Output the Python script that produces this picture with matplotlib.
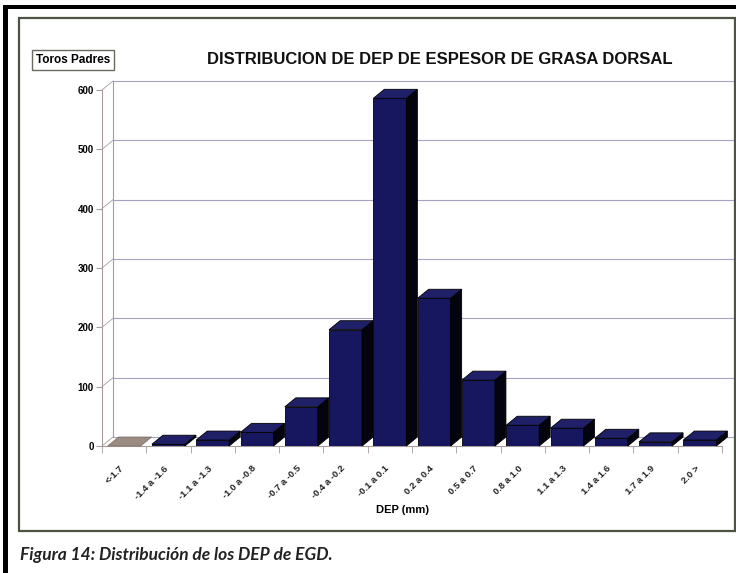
import numpy as np
import matplotlib
matplotlib.use('Agg')
import matplotlib.pyplot as plt
import matplotlib.transforms as mtransforms
from matplotlib.patches import Polygon, Rectangle

# data
categories = ['<-1.7', '-1.4 a -1.6', '-1.1 a -1.3', '-1.0 a -0.8', '-0.7 a -0.5',
              '-0.4 a -0.2', '-0.1 a 0.1', '0.2 a 0.4', '0.5 a 0.7', '0.8 a 1.0',
              '1.1 a 1.3', '1.4 a 1.6', '1.7 a 1.9', '2.0 >']
counts = [0, 3, 10, 23, 66, 196, 586, 249, 111, 35, 30, 13, 7, 10]
yticks = [0, 100, 200, 300, 400, 500, 600]

W, H = 736, 573
fig = plt.figure(figsize=(W / 100, H / 100), dpi=100)
fig.patch.set_facecolor('white')

def fx(x):
    return x / W

def fy(y):
    return 1 - y / H

# front axis: x from 102 to 722 px, y 0 at 446 px, 600 at 90 px
ax = fig.add_axes([fx(102), fy(446), (722 - 102) / W, (446 - 90) / H])
ax.set_xlim(-0.5, len(categories) - 0.5)
ax.set_ylim(0, 600)
ax.patch.set_alpha(0)

# 3d depth offset in data units (about 11 px right, 9 px up)
dx = 11 / (620 / len(categories))
dy = 9 / (356 / 600)
xmin, xmax = -0.5, len(categories) - 0.5

grid_col = '#a4a2c4'
axis_col = '#a89c9c'

# back wall gridlines and left wall slants
for v in yticks:
    ax.plot([xmin + dx, xmax + dx], [v + dy, v + dy], color=grid_col, lw=0.8, clip_on=False, zorder=1)
    ax.plot([xmin, xmin + dx], [v, v + dy], color=axis_col, lw=0.6, clip_on=False, zorder=1)
ax.plot([xmin + dx, xmin + dx], [dy, 600 + dy], color=axis_col, lw=0.8, clip_on=False, zorder=1)

# bars
bw = 0.745
front_col = '#17175f'
top_col = '#202068'
side_col = '#04040f'
for i, v in enumerate(counts):
    x0 = i - bw / 2
    x1 = i + bw / 2
    if v == 0:
        ax.add_patch(Polygon([(x0, 0), (x1, 0), (x1 + dx, dy), (x0 + dx, dy)],
                             closed=True, facecolor='#9c8b82', edgecolor='#7a6a62', lw=0.5,
                             clip_on=False, zorder=3))
        continue
    ax.bar(i, v, width=bw, color=front_col, edgecolor='black', lw=0.6, zorder=3)
    ax.add_patch(Polygon([(x1, 0), (x1 + dx, dy), (x1 + dx, v + dy), (x1, v)],
                         closed=True, facecolor=side_col, edgecolor='black', lw=0.6,
                         clip_on=False, zorder=3))
    ax.add_patch(Polygon([(x0, v), (x1, v), (x1 + dx, v + dy), (x0 + dx, v + dy)],
                         closed=True, facecolor=top_col, edgecolor='black', lw=0.6,
                         clip_on=False, zorder=3))

# front axes
for s in ['top', 'right']:
    ax.spines[s].set_visible(False)
ax.spines['left'].set_color(axis_col)
ax.spines['bottom'].set_color(axis_col)
ax.spines['left'].set_linewidth(0.8)
ax.spines['bottom'].set_linewidth(0.8)

ax.set_yticks(yticks)
ax.set_yticklabels([str(v) for v in yticks], fontsize=7, fontweight='bold', family='Liberation Sans')
ax.tick_params(axis='y', length=4, color=axis_col, pad=2)

ax.set_xticks(np.arange(len(categories)))
ax.set_xticklabels(categories, rotation=45, ha='right', va='top', rotation_mode='anchor',
                   fontsize=6.8, fontweight='bold', family='Liberation Sans', color='#222222')
ax.set_xticks(np.arange(len(categories) + 1) - 0.5, minor=True)
ax.tick_params(axis='x', which='major', length=0, pad=13)
ax.tick_params(axis='x', which='minor', length=5, color=axis_col)
shift = mtransforms.ScaledTranslation(-5 / 100, 0, fig.dpi_scale_trans)
for lab in ax.get_xticklabels():
    lab.set_transform(lab.get_transform() + shift)

fig.text(fx(402), fy(510), 'DEP (mm)', ha='center', va='center', fontsize=8,
         fontweight='bold', family='Liberation Sans')

# titles
fig.text(fx(440), fy(60), 'DISTRIBUCION DE DEP DE ESPESOR DE GRASA DORSAL', ha='center', va='center',
         fontsize=12, fontweight='bold', family='Liberation Sans', color='#111111')
fig.text(fx(73), fy(60), 'Toros Padres', ha='center', va='center', fontsize=8.5,
         fontweight='bold', family='Liberation Sans',
         bbox=dict(boxstyle='square,pad=0.3', facecolor='white', edgecolor='#6a6a60', lw=1))

# frames
fig.add_artist(Rectangle((fx(19), fy(531)), (735 - 19) / W, (531 - 18) / H, transform=fig.transFigure,
                         fill=False, edgecolor='#4d5444', lw=1.6))
fig.add_artist(Rectangle((fx(3), 0), 5 / W, fy(5), transform=fig.transFigure,
                         facecolor='black', edgecolor='none'))
fig.add_artist(Rectangle((fx(3), fy(9)), 1 - fx(3), 4 / H, transform=fig.transFigure,
                         facecolor='black', edgecolor='none'))

fig.text(fx(20), fy(555), 'Figura 14: Distribución de los DEP de EGD.', ha='left', va='center',
         fontsize=12.5, fontweight='bold', fontstyle='italic',
         family=['Lato', 'DejaVu Sans'], color='#222222')

fig.savefig('out.png', dpi=100)
